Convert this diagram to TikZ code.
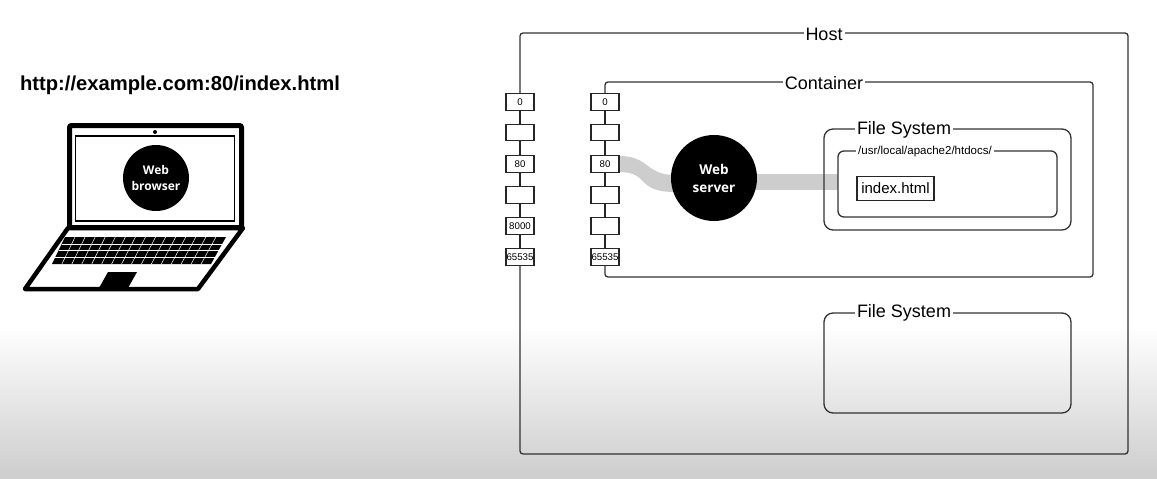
\documentclass[tikz,border=0pt]{standalone}
\usepackage{fontspec}
\setmainfont{Liberation Sans}
\newfontfamily\badgefont{Open Sans}
\usetikzlibrary{arrows.meta, positioning, calc}
\definecolor{linegray}{RGB}{50,50,50}
\definecolor{bandgray}{RGB}{205,205,205}
\definecolor{fadegray}{RGB}{207,207,207}

\begin{document}
\begin{tikzpicture}[
    x=1pt, y=-1pt,
    portbox/.style={rectangle, draw=black!85, line width=1.2pt, fill=white, minimum width=28pt, minimum height=16.5pt, inner sep=0, font=\fontsize{9.7}{11}\selectfont},
    portlink/.style={draw=black!85, line width=1.2pt},
    framebox/.style={draw=linegray, line width=1.3pt, rounded corners=3pt},
    framelabel/.style={fill=white, inner sep=2pt, font=\fontsize{18}{20}\selectfont},
    badge/.style={circle, fill=black, text=white, inner sep=0, align=center, font=\badgefont\bfseries}
]
  \useasboundingbox (0,0) rectangle (1157,479);

  % Backdrop
  \shade[top color=white, bottom color=fadegray, draw=none] (0,325) rectangle (1157,472);
  \fill[fadegray] (0,472) rectangle (1157,479);

  % URL
  \node[anchor=west, font=\fontsize{20.2}{22}\selectfont\bfseries] (url) at (16.5,85) {http://example.com:80/index.html};

  % Laptop screen
  \draw[line width=5pt, rounded corners=2pt, fill=white] (69.5,125.5) rectangle (241.5,227.5);
  \draw[line width=1.5pt] (75.5,136) rectangle (234.5,221);
  \fill (155,132) circle (2pt);
  \node[badge, minimum size=66pt, font=\badgefont\bfseries\fontsize{12}{16}\selectfont] (browser) at (156,178) {Web\\browser};

  % Laptop base
  \draw[line width=4.5pt, line join=round, fill=white] (68,228) -- (243,228) -- (198,289) -- (25,289) -- cycle;
  \fill (65,237) -- (226,237) -- (211,264) -- (52,264) -- cycle;
  \foreach \r in {1,2,3}{
    \draw[white, line width=0.5pt] ($(65,237)!\r/4!(52,264)$) -- ($(226,237)!\r/4!(211,264)$);
  }
  \foreach \c in {1,...,15}{
    \draw[white, line width=0.5pt] ($(65,237)!\c/16!(226,237)$) -- ($(52,264)!\c/16!(211,264)$);
  }
  \fill (108,272) -- (137,272) -- (128,288) -- (99,288) -- cycle;

  % Host and container frames
  \draw[framebox] (520,102) -- (520,33) -- (1128,33) -- (1128,454) -- (520,454) -- (520,257);
  \draw[framebox] (605,102) -- (605,82) -- (1093,82) -- (1093,277) -- (605,277) -- (605,257);
  \node[framelabel] (host) at (824,34) {Host};
  \node[framelabel] (container) at (824,83) {Container};

  % Bands to the server
  \fill[bandgray] (619,156) .. controls (650,156) and (645,175) .. (675,175) -- (675,192) .. controls (635,192) and (650,172) .. (619,172) -- cycle;
  \fill[bandgray] (750,174) rectangle (838,190);

  % Server
  \node[badge, minimum size=86pt, font=\badgefont\bfseries\fontsize{13.5}{18}\selectfont] (server) at (714,178) {Web\\server};

  % Host ports
  \foreach \n/\y/\t in {0/102/0, 1/132.5/, 2/164/80, 3/195/, 4/226/8000, 5/257/65535}{
    \node[portbox] (H\n) at (520,\y) {\t};
    \node[portbox] (C\n) at (605,\y) {\ifnum\n=4 \else\t\fi};
  }
  \foreach \a/\b in {0/1,1/2,2/3,3/4,4/5}{
    \draw[portlink] (H\a) -- (H\b);
    \draw[portlink] (C\a) -- (C\b);
  }

  % File systems
  \draw[draw=linegray, line width=1.3pt, rounded corners=9pt] (824,129) rectangle (1071,230);
  \node[framelabel] (fsone) at (904,130) {File System};
  \draw[draw=linegray, line width=1.3pt, rounded corners=6pt] (838,151) rectangle (1057,217);
  \node[fill=white, inner sep=2pt, font=\fontsize{11.5}{13}\selectfont] (docroot) at (925,152) {/usr/local/apache2/htdocs/};
  \node[rectangle, draw=black!85, line width=1.2pt, minimum width=77pt, minimum height=24pt, inner sep=0, font=\fontsize{15}{18}\selectfont] (index) at (895.5,188.5) {index.html};

  \draw[draw=linegray, line width=1.3pt, rounded corners=9pt] (824,313) rectangle (1071,413);
  \node[framelabel] (fstwo) at (904,313) {File System};
\end{tikzpicture}
\end{document}
